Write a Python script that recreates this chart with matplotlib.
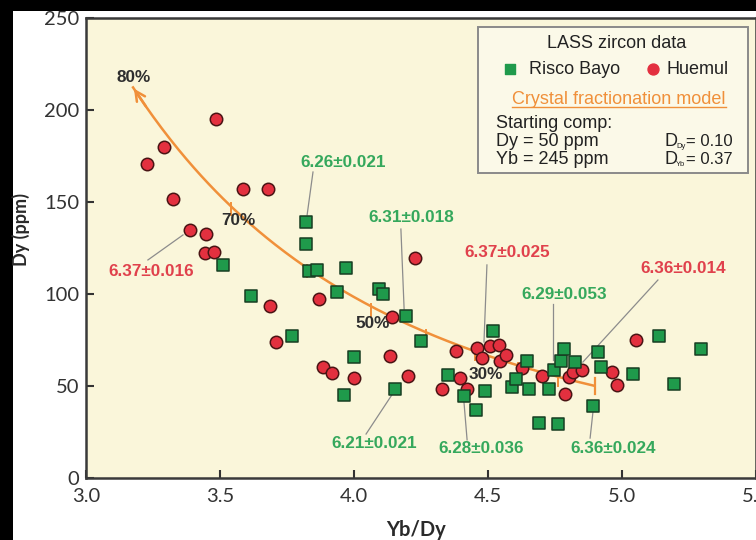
import numpy as np
import matplotlib
matplotlib.use("Agg")
import matplotlib.pyplot as plt
from matplotlib.patches import Rectangle
from matplotlib.lines import Line2D

# ---- LASS zircon data (Yb/Dy, Dy ppm) ----
risco_x = [3.510, 3.616, 3.767, 3.821, 3.821, 3.832, 3.863, 3.938, 3.963, 3.969,
           4.001, 4.093, 4.107, 4.154, 4.193, 4.250, 4.352, 4.412, 4.454, 4.489,
           4.520, 4.591, 4.604, 4.644, 4.652, 4.689, 4.728, 4.747, 4.760, 4.771,
           4.785, 4.825, 4.893, 4.909, 4.923, 5.041, 5.137, 5.194, 5.295]
risco_y = [115.6, 98.7, 77.4, 139.3, 127.0, 112.7, 113.2, 101.1, 45.3, 114.3,
           65.8, 102.7, 99.8, 48.6, 88.0, 74.5, 56.0, 44.6, 37.1, 47.5,
           79.9, 49.6, 53.8, 63.8, 48.4, 29.9, 48.4, 58.7, 29.3, 63.8,
           69.9, 62.9, 39.3, 68.6, 60.5, 56.4, 77.2, 50.9, 69.9]

huemul_x = [3.228, 3.292, 3.323, 3.388, 3.445, 3.448, 3.478, 3.484, 3.587, 3.678,
            3.687, 3.710, 3.869, 3.883, 3.917, 4.000, 4.133, 4.142, 4.203, 4.226,
            4.327, 4.381, 4.397, 4.420, 4.458, 4.476, 4.507, 4.542, 4.546, 4.567,
            4.628, 4.700, 4.786, 4.802, 4.817, 4.851, 4.964, 4.981, 5.051]
huemul_y = [170.7, 179.9, 151.8, 135.0, 122.3, 132.6, 122.8, 195.0, 157.1, 157.1,
            93.6, 73.7, 97.4, 60.1, 57.3, 54.3, 66.5, 87.7, 55.6, 119.6,
            48.6, 68.8, 54.5, 48.4, 70.5, 65.0, 71.7, 72.3, 63.8, 66.8,
            59.6, 55.4, 45.7, 55.1, 57.4, 58.7, 57.4, 50.4, 75.0]

# ---- Rayleigh crystal fractionation model ----
DY0 = 50.0      # starting Dy (ppm)
YB0 = 245.0     # starting Yb (ppm)
D_DY = 0.10
D_YB = 0.37
tick_fracs = [0.9, 0.8, 0.7, 0.6, 0.5, 0.4, 0.3]   # melt fraction remaining
end_frac = 0.2                                      # 80 % crystallised

# ---- ages (Ma) with text position and leader line ----
age_texts = ["6.26±0.021", "6.31±0.018", "6.37±0.025", "6.36±0.014", "6.29±0.053",
             "6.21±0.021", "6.28±0.036", "6.36±0.024", "6.37±0.016"]
age_groups = ["R", "R", "H", "H", "R", "R", "R", "R", "H"]
age_pos = [(3.959, 171.7), (4.213, 141.8), (4.571, 122.3), (5.228, 114.1), (4.784, 99.5),
           (4.075, 19.0), (4.474, 15.8), (4.966, 16.3), (3.243, 112.5)]
leaders = [((3.847, 166.3), (3.825, 142.9)), ((4.175, 135.3), (4.187, 91.8)),
           ((4.496, 115.8), (4.485, 73.9)), ((5.134, 107.6), (4.854, 63.0)),
           ((4.743, 94.6), (4.743, 64.1)), ((4.045, 23.9), (4.146, 46.2)),
           ((4.422, 20.7), (4.410, 41.8)), ((4.881, 21.7), (4.892, 36.4)),
           ((3.231, 118.5), (3.362, 132.1))]

pct_texts = ["80%", "70%", "50%", "30%"]
pct_pos = [(3.179, 217.9), (3.567, 140.2), (4.071, 84.0), (4.493, 56.3)]

x_ticks = [3.0, 3.5, 4.0, 4.5, 5.0, 5.5]
y_ticks = [0, 50, 100, 150, 200, 250]

GREEN = "#1f9a4b"
GREEN_TXT = "#35a85c"
RED = "#e3303f"
RED_TXT = "#e0414c"
ORANGE = "#f0903a"
BG = "#faf6da"

W, H = 756, 540
fig = plt.figure(figsize=(W / 100, H / 100), dpi=100, facecolor="black")
fig.patches.append(Rectangle((13 / W, 0), 1 - 13 / W, (H - 11) / H,
                             transform=fig.transFigure, facecolor="white",
                             edgecolor="none", zorder=-10))

L, B, AW, AH = 86, 62, 670, 460
ax = fig.add_axes([L / W, B / H, AW / W, AH / H])
ax.set_facecolor(BG)
ax.set_xlim(3.0, 5.5)
ax.set_ylim(0, 250)


def px(xp, yp):
    """pixel position in the figure -> axes fraction"""
    return ((xp - L) / AW, (H - B - yp) / AH)


# model curve
F = np.linspace(1.0, end_frac, 300)
dy = DY0 * F ** (D_DY - 1)
ratio = YB0 * F ** (D_YB - 1) / dy
ax.plot(ratio, dy, color=ORANGE, lw=1.8, zorder=2, solid_capstyle="butt")
ax.annotate("", xy=(ratio[-1], dy[-1]), xytext=(ratio[-6], dy[-6]),
            arrowprops=dict(arrowstyle="->,head_length=0.7,head_width=0.35",
                            color=ORANGE, lw=1.8), zorder=2)
for f in tick_fracs:
    r = YB0 * f ** (D_YB - 1) / (DY0 * f ** (D_DY - 1))
    d = DY0 * f ** (D_DY - 1)
    ax.plot([r, r], [d + 1.5, d - 5.0], color=ORANGE, lw=1.4, zorder=2)
ax.plot([YB0 / DY0] * 2, [DY0 + 4.2, DY0 - 4.2], color=ORANGE, lw=1.6, zorder=2)

# data
ax.scatter(huemul_x, huemul_y, s=80, marker="o", facecolor=RED,
           edgecolor="#4a1414", linewidth=1.1, zorder=3)
ax.scatter(risco_x, risco_y, s=84, marker="s", facecolor=GREEN,
           edgecolor="#173d22", linewidth=1.1, zorder=4)

# age annotations
for txt, grp, (tx, ty), (p0, p1) in zip(age_texts, age_groups, age_pos, leaders):
    ax.plot([p0[0], p1[0]], [p0[1], p1[1]], color="#8c8c8c", lw=0.9, zorder=2.5)
    ax.text(tx, ty, txt, color=GREEN_TXT if grp == "R" else RED_TXT,
            fontsize=12.3, fontweight="bold", family="Liberation Sans",
            ha="center", va="center", zorder=6)

for txt, (tx, ty) in zip(pct_texts, pct_pos):
    ax.text(tx, ty, txt, color="#2e2e2e", fontsize=12.3, fontweight="bold",
            family="Liberation Sans", ha="center", va="center", zorder=6)

# legend box
x0, y0 = px(478, 173)
x1, y1 = px(748, 27)
ax.add_patch(Rectangle((x0, y0), x1 - x0, y1 - y0, transform=ax.transAxes,
                       facecolor="#fbf9e8", edgecolor="#8a8a8a", lw=1.4, zorder=7))
lkw = dict(transform=ax.transAxes, family="Liberation Sans", color="#222222",
           fontsize=13, zorder=8)
ax.text(*px(617, 43), "LASS zircon data", ha="center", va="center", **lkw)
ax.scatter(*px(510, 69), s=60, marker="s", color=GREEN, transform=ax.transAxes,
           zorder=8, clip_on=False)
ax.text(*px(529, 69), "Risco Bayo", ha="left", va="center", **lkw)
ax.scatter(*px(653, 69), s=62, marker="o", color=RED, transform=ax.transAxes,
           zorder=8, clip_on=False)
ax.text(*px(667, 69), "Huemul", ha="left", va="center", **lkw)
model_txt = ax.text(*px(619, 99), "Crystal fractionation model", ha="center",
                    va="center", transform=ax.transAxes, family="Liberation Sans",
                    color=ORANGE, fontsize=13, zorder=8)
ax.text(*px(496, 124), "Starting comp:", ha="left", va="center", **lkw)
ax.text(*px(496, 142), "Dy = 50 ppm", ha="left", va="center", **lkw)
ax.text(*px(496, 160), "Yb = 245 ppm", ha="left", va="center", **lkw)
for yp, sub, val in [(141, "Dy", "= 0.10"), (159, "Yb", "= 0.37")]:
    ax.text(*px(664, yp), "D", ha="left", va="center", **lkw)
    ax.text(*px(676, yp + 5), sub, ha="left", va="center", transform=ax.transAxes,
            family="Liberation Sans", color="#222222", fontsize=5.5, zorder=8)
    ax.text(*px(686, yp), val, ha="left", va="center", transform=ax.transAxes,
            family="Liberation Sans", color="#222222", fontsize=12, zorder=8)

# underline for the model title
fig.canvas.draw()
bb = model_txt.get_window_extent()
uy = bb.y0 + 1.0
fig.lines.append(Line2D([bb.x0 / W, bb.x1 / W], [uy / H, uy / H],
                        transform=fig.transFigure, color=ORANGE, lw=1.0, zorder=9))

# axes styling
ax.set_xticks(x_ticks)
ax.set_yticks(y_ticks)
ax.set_xticklabels([f"{v:.1f}" for v in x_ticks])
ax.set_yticklabels([f"{v:d}" for v in y_ticks])
ax.tick_params(direction="in", length=6, width=1.5, color="#333333",
               labelsize=14.5, labelcolor="#333333", pad=5)
for lab in ax.get_xticklabels() + ax.get_yticklabels():
    lab.set_family("Lato")
ax.tick_params(axis="x", pad=7)
for sp in ax.spines.values():
    sp.set_color("#3a3a3a")
    sp.set_linewidth(1.8)

ax.text(*px(21, 230), "Dy (ppm)", transform=ax.transAxes, rotation=90,
        ha="center", va="center", family="Lato", fontweight="bold",
        fontsize=13, color="#2a2a2a")
ax.text(*px(416, 530), "Yb/Dy", transform=ax.transAxes, ha="center",
        va="center", family="Lato", fontweight="bold", fontsize=14.5,
        color="#2a2a2a", clip_on=False)

fig.savefig("out.png", dpi=100, facecolor="black")
